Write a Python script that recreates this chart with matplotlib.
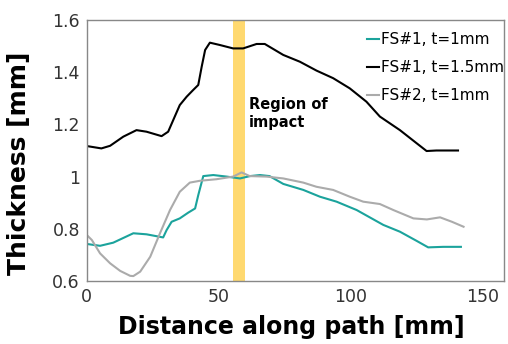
import numpy as np
import matplotlib.pyplot as plt

# ── data ─────────────────────────────────────────
d_fs1_1 = [0, 5, 10, 17.6, 22.6, 28.9, 30.2, 32.1, 35.2, 38.4, 41, 42.2, 44.1, 47.9,
           53, 58, 61.8, 65.6, 69.2, 74.4, 82, 88.3, 94.6, 102.2, 112.3, 118.6,
           124.9, 129.3, 135, 141.7]
t_fs1_1 = [0.742, 0.735, 0.747, 0.783, 0.779, 0.767, 0.795, 0.827, 0.84, 0.862, 0.878,
           0.929, 1.002, 1.006, 1.0, 0.993, 1.002, 1.006, 1.002, 0.972, 0.949, 0.923,
           0.904, 0.872, 0.815, 0.789, 0.754, 0.729, 0.731, 0.731]

d_fs1_15 = [0, 5.5, 8.8, 13.8, 18.8, 22.6, 28.3, 30.8, 33.3, 35.2, 37.8, 40.3, 42.2,
            43.5, 44.8, 46.6, 50.4, 55.4, 59.2, 64.3, 67.4, 74.4, 80.7, 87, 93.3,
            99.6, 105.9, 111, 118.6, 124.9, 128.7, 132.4, 140.6]
t_fs1_15 = [1.117, 1.108, 1.118, 1.153, 1.178, 1.172, 1.155, 1.172, 1.23, 1.274, 1.306,
            1.332, 1.351, 1.421, 1.485, 1.513, 1.504, 1.491, 1.491, 1.508, 1.508, 1.466,
            1.44, 1.406, 1.377, 1.338, 1.287, 1.23, 1.178, 1.128, 1.098, 1.10, 1.10]

d_fs2_1 = [0, 1.9, 5, 8.8, 12.6, 16.4, 17.6, 20.2, 24, 27.7, 31.5, 35.2, 39, 42.8,
           49.1, 55.4, 58.6, 61.7, 68.1, 74.4, 82, 87, 93.3, 99.6, 104.7, 111, 116.1,
           123.7, 128.8, 133.8, 138.3, 142.7]
t_fs2_1 = [0.776, 0.757, 0.706, 0.668, 0.639, 0.62, 0.619, 0.636, 0.693, 0.783, 0.872,
           0.942, 0.977, 0.984, 0.99, 1.0, 1.016, 1.002, 1.0, 0.993, 0.977, 0.961, 0.949,
           0.923, 0.904, 0.895, 0.872, 0.84, 0.836, 0.844, 0.827, 0.808]

impact_zone = (55.5, 60.0)
labels = ["FS#1, t=1mm", "FS#1, t=1.5mm", "FS#2, t=1mm"]

fig = plt.figure(figsize=(5.08, 3.44), dpi=100)
ax = fig.add_axes([0.171, 0.183, 0.821, 0.759])

ax.axvspan(*impact_zone, color="#FFD970", lw=0, zorder=0)
l1, = ax.plot(d_fs1_1, t_fs1_1, color="#1BA39C", lw=1.5)
l2, = ax.plot(d_fs1_15, t_fs1_15, color="black", lw=1.5)
l3, = ax.plot(d_fs2_1, t_fs2_1, color="#ABABAB", lw=1.5)

ax.text(61.5, 1.305, "Region of\nimpact", fontsize=10.5, fontweight="bold",
        va="top", ha="left", linespacing=1.25)

ax.set_xlim(0, 158)
ax.set_ylim(0.6, 1.6)
ax.set_xticks([0, 50, 100, 150])
ax.set_yticks([0.6, 0.8, 1.0, 1.2, 1.4, 1.6])
ax.set_yticklabels(["0.6", "0.8", "1", "1.2", "1.4", "1.6"])
ax.tick_params(length=0, labelsize=12.5, colors="#333333", pad=5)
for s in ax.spines.values():
    s.set_color("#888888")
    s.set_linewidth(1.0)

ax.set_xlabel("Distance along path [mm]", fontsize=17, fontweight="bold", labelpad=7)
ax.set_ylabel("Thickness [mm]", fontsize=18, fontweight="bold")
ax.yaxis.set_label_coords(-0.135, 0.45)
ax.xaxis.set_label_coords(0.49, -0.13)

fig.legend([l1, l2, l3], labels, loc="upper right", bbox_to_anchor=(1.005, 0.925),
           frameon=False, fontsize=11, handlelength=0.8, handletextpad=0.15,
           labelspacing=0.85, borderaxespad=0)

fig.savefig("out.png", dpi=100)
